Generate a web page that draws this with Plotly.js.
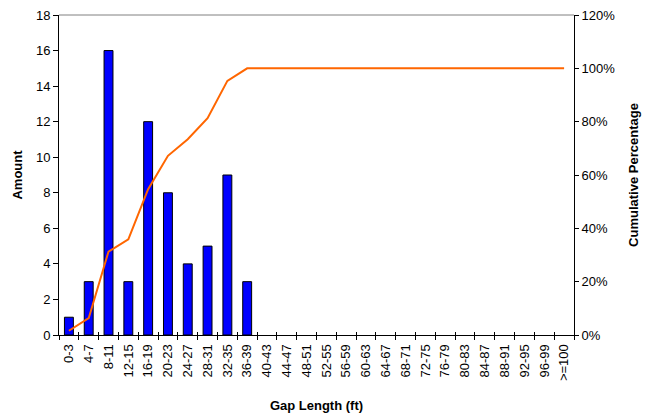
<!DOCTYPE html>
<html>
<head>
<meta charset="utf-8">
<script src="https://cdn.plot.ly/plotly-3.0.1.min.js"></script>
<style>
  html, body { margin: 0; padding: 0; background: #ffffff; }
  #chart { width: 652px; height: 415px; }
</style>
</head>
<body>
<div id="chart"></div>
<script>
// Gap length bins (ft)
const categories = ['0-3', '4-7', '8-11', '12-15', '16-19', '20-23', '24-27', '28-31',
  '32-35', '36-39', '40-43', '44-47', '48-51', '52-55', '56-59', '60-63', '64-67',
  '68-71', '72-75', '76-79', '80-83', '84-87', '88-91', '92-95', '96-99', '>=100'];

// Number of gaps in each bin
const amounts = [1, 3, 16, 3, 12, 8, 4, 5, 9, 3, 0, 0, 0, 0, 0, 0, 0, 0, 0, 0, 0, 0, 0, 0, 0, 0];

// Cumulative share of gaps up to each bin
const cumulative = [0.016, 0.063, 0.313, 0.359, 0.547, 0.672, 0.734, 0.813, 0.953, 1.0,
  1.0, 1.0, 1.0, 1.0, 1.0, 1.0, 1.0, 1.0, 1.0, 1.0, 1.0, 1.0, 1.0, 1.0, 1.0, 1.0];

const amountTicks = [0, 2, 4, 6, 8, 10, 12, 14, 16, 18];
const pctTicks = [0, 0.2, 0.4, 0.6, 0.8, 1.0, 1.2];

const font = { family: 'Liberation Sans, Arial, sans-serif', size: 13, color: '#000000' };
const titleFont = { family: 'Liberation Sans, Arial, sans-serif', size: 13, color: '#000000', weight: 'bold' };

// empty bins get no outline so nothing is drawn for them
const barOutline = amounts.map(v => (v > 0 ? 1 : 0));

const traces = [
  {
    type: 'bar',
    x: categories,
    y: amounts,
    xaxis: 'x',
    yaxis: 'y',
    marker: { color: '#0000FF', line: { color: '#000000', width: barOutline } },
    hoverinfo: 'x+y'
  },
  {
    type: 'scatter',
    mode: 'lines',
    x: categories,
    y: cumulative,
    xaxis: 'x2',
    yaxis: 'y2',
    line: { color: '#FF6600', width: 2 },
    hoverinfo: 'x+y'
  }
];

const catRange = [-0.5, categories.length - 0.5];

const layout = {
  width: 652,
  height: 415,
  margin: { l: 59, r: 78, t: 15, b: 80 },
  paper_bgcolor: '#ffffff',
  plot_bgcolor: '#ffffff',
  showlegend: false,
  bargap: 0.55,
  font: font,
  xaxis: {
    type: 'category',
    range: catRange,
    tickson: 'boundaries',
    ticks: 'outside',
    ticklen: 4,
    tickcolor: '#000000',
    tickwidth: 1,
    tickangle: -90,
    tickfont: font,
    ticklabelstandoff: 3,
    showline: true,
    linecolor: '#000000',
    linewidth: 1,
    showgrid: false,
    zeroline: false,
    fixedrange: true,
    title: { text: 'Gap Length (ft)', font: titleFont, standoff: 20 }
  },
  xaxis2: {
    type: 'category',
    overlaying: 'x',
    anchor: 'y',
    side: 'bottom',
    range: catRange,
    tickson: 'boundaries',
    ticks: 'inside',
    ticklen: 3,
    tickcolor: '#000000',
    showticklabels: false,
    showline: false,
    showgrid: false,
    zeroline: false,
    fixedrange: true
  },
  yaxis: {
    range: [0, 18],
    tickvals: amountTicks,
    ticks: 'outside',
    ticklen: 5,
    tickcolor: '#000000',
    tickfont: font,
    showline: true,
    linecolor: '#000000',
    linewidth: 1,
    showgrid: false,
    zeroline: false,
    fixedrange: true,
    title: { text: 'Amount', font: titleFont, standoff: 10 }
  },
  yaxis2: {
    overlaying: 'y',
    side: 'right',
    anchor: 'x',
    range: [0, 1.2],
    tickvals: pctTicks,
    tickformat: '.0%',
    ticks: 'outside',
    ticklen: 4,
    tickcolor: '#000000',
    tickfont: font,
    showline: true,
    linecolor: '#000000',
    linewidth: 1,
    showgrid: false,
    zeroline: false,
    fixedrange: true,
    title: { text: 'Cumulative Percentage', font: titleFont, standoff: 14 }
  },
  yaxis3: {
    overlaying: 'y',
    side: 'left',
    anchor: 'x',
    range: [0, 18],
    tickvals: amountTicks,
    ticks: 'inside',
    ticklen: 3,
    tickcolor: '#000000',
    showticklabels: false,
    showline: false,
    showgrid: false,
    zeroline: false,
    fixedrange: true
  },
  yaxis4: {
    overlaying: 'y',
    side: 'right',
    anchor: 'x',
    range: [0, 1.2],
    tickvals: pctTicks,
    ticks: 'inside',
    ticklen: 3,
    tickcolor: '#000000',
    showticklabels: false,
    showline: false,
    showgrid: false,
    zeroline: false,
    fixedrange: true
  },
  shapes: [
    {
      type: 'line', xref: 'paper', yref: 'paper',
      x0: 0, x1: 1, y0: 1, y1: 1,
      line: { color: '#808080', width: 1 }
    }
  ]
};

Plotly.newPlot('chart', traces, layout, { displayModeBar: false, staticPlot: true });
</script>
</body>
</html>
